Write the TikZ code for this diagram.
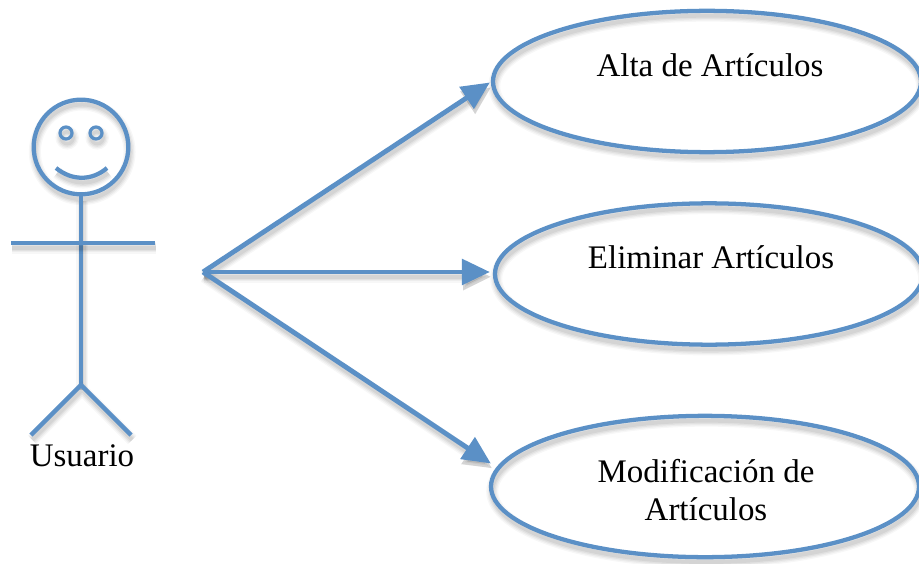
\documentclass[tikz,border=0pt]{standalone}
\usepackage{fontspec}
\setmainfont{Liberation Serif}
\usetikzlibrary{shapes.geometric,arrows.meta,calc}
\definecolor{umlblue}{HTML}{5B90C6}
\tikzset{
  softshadow/.style={
    preaction={draw=black,fill=none,opacity=.03,line width=#1+7pt,transform canvas={shift={(.9pt,-3.6pt)}}},
    preaction={draw=black,fill=none,opacity=.04,line width=#1+5pt,transform canvas={shift={(.9pt,-3.6pt)}}},
    preaction={draw=black,fill=none,opacity=.05,line width=#1+3pt,transform canvas={shift={(.9pt,-3.6pt)}}},
    preaction={draw=black,fill=none,opacity=.06,line width=#1+1pt,transform canvas={shift={(.9pt,-3.6pt)}}},
  },
  figline/.style={draw=umlblue,line width=3.2pt,softshadow=2pt},
  usecase/.style={ellipse,draw=umlblue,line width=3.2pt,softshadow=2pt,inner sep=0pt,
    minimum width=321pt,minimum height=106pt,align=center},
  head/.style={circle,draw=umlblue,line width=3.2pt,softshadow=2pt,inner sep=0pt,minimum size=71pt},
  eye/.style={circle,draw=umlblue,line width=2.4pt,softshadow=1.5pt,inner sep=0pt,minimum size=9pt},
  assoc/.style={draw=umlblue,line width=3.6pt,softshadow=2pt,-{Triangle[length=21pt,width=19pt]}},
  label/.style={inner sep=0pt,align=center,font=\fontsize{24.7}{28.5}\selectfont},
}
\begin{document}
\begin{tikzpicture}[x=.75pt,y=-.75pt]
\useasboundingbox (0,0) rectangle (919,563);
\clip (0,0) rectangle (919,563);
% use cases
\node[usecase] (e1) at (707,81.5) {};
\node[usecase] (e2) at (709,274) {};
\node[usecase] (e3) at (705,486.5) {};
\node[label] (t1) at (710,65) {Alta de Artículos};
\node[label] (t2) at (711,257) {Eliminar Artículos};
\node[label] (t3) at (706,490) {Modificación de\\Artículos};
% actor
\node[head] (h) at (81,147) {};
\node[eye] (el) at (66,133) {};
\node[eye] (er) at (96,133) {};
\coordinate (sl) at (56,168);
\coordinate (sr) at (107,168);
\coordinate (hip) at (81,385);
\coordinate (al) at (11,243);
\coordinate (ar) at (155,243);
\coordinate (fl) at (31,435);
\coordinate (fr) at (131,435);
\draw[figline] (sl) .. controls (72,181) and (92,181) .. (sr);
\draw[figline] (h.south) -- (hip);
\draw[figline] (al) -- (ar);
\draw[figline] (fl) -- (hip) -- (fr);
\node[label] (u) at (82,456) {Usuario};
% associations
\coordinate (o) at (203,272);
\coordinate (p1) at ($(e1.west)+(-1,1)$);
\coordinate (p2) at ($(e2.west)+(-3,-2)$);
\coordinate (p3) at ($(e3.west)+(2,-23)$);
\draw[assoc] (o) -- (p1);
\draw[assoc] (o) -- (p2);
\draw[assoc] (o) -- (p3);
\end{tikzpicture}
\end{document}
